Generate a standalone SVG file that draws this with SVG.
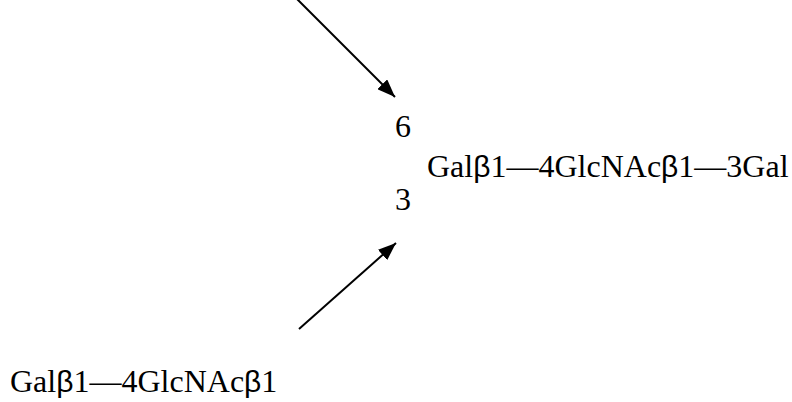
<svg xmlns="http://www.w3.org/2000/svg" width="792" height="402" viewBox="0 0 792 402">
  <style>
    .lbl { font-family: "Liberation Serif", "Times New Roman", serif; font-size: 32px; fill: #000; }
    .gk { font-family: "Liberation Sans", Arial, sans-serif; font-size: 30px; }
    .conn { stroke: #000; stroke-width: 2; fill: none; }
  </style>
  <defs>
    <marker id="arrow" viewBox="0 0 18 14" refX="18" refY="7" markerWidth="18" markerHeight="14" markerUnits="userSpaceOnUse" orient="auto">
      <path d="M0,0 L18,7 L0,14 Z" fill="#000"/>
    </marker>
  </defs>

  <!-- linkage connectors -->
  <g id="connectors">
    <line class="conn" x1="292" y1="-6" x2="395" y2="97" marker-end="url(#arrow)"/>
    <line class="conn" x1="299" y1="329" x2="396" y2="243" marker-end="url(#arrow)"/>
  </g>

  <!-- branch point positions -->
  <g id="pos6">
    <text class="lbl" x="395" y="137">6</text>
  </g>
  <g id="pos3">
    <text class="lbl" x="395" y="210">3</text>
  </g>

  <!-- core chain -->
  <g id="core">
    <text class="lbl" x="427" y="177">Gal<tspan class="gk">β</tspan>1—4GlcNAc<tspan class="gk">β</tspan>1—3Gal</text>
  </g>

  <!-- lower antenna -->
  <g id="antenna3">
    <text class="lbl" x="10" y="392">Gal<tspan class="gk">β</tspan>1—4GlcNAc<tspan class="gk">β</tspan>1</text>
  </g>
</svg>
